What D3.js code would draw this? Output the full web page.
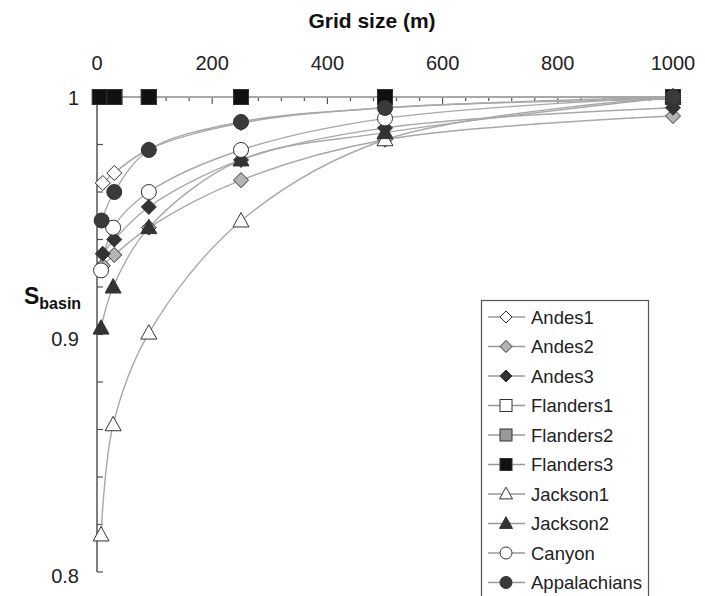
<!DOCTYPE html>
<html><head><meta charset="utf-8">
<script src="https://cdn.jsdelivr.net/npm/d3@7"></script>
<style>body{margin:0;background:#fff}svg{display:block;font-family:"Liberation Sans",Arial,sans-serif}</style>
</head><body><svg id="c" width="705" height="596"></svg>
<script>
const seriesNames = ["Andes1","Andes2","Andes3","Flanders1","Flanders2","Flanders3","Jackson1","Jackson2","Canyon","Appalachians"];
const gridAndes = [10,30,90,250,500,1000];
const gridFlanders = [5,30,90,250,500,1000];
const gridJackson = [7,28,90,250,500,1000];
const gridCanyon = [7,28,90,250,500,1000];
const gridAppal = [8,30,90,250,500,1000];
const andes1 = [0.9638,0.968,0.978,0.989,0.9955,0.999];
const andes2 = [0.929,0.9335,0.945,0.965,0.982,0.992];
const andes3 = [0.934,0.940,0.9537,0.9735,0.987,0.9955];
const flanders1 = [1,1,1,1,1,1];
const flanders2 = [1,1,1,1,1,1];
const flanders3 = [1,1,1,1,1,1];
const jackson1 = [0.8156,0.862,0.9006,0.9478,0.982,1.0];
const jackson2 = [0.9027,0.920,0.945,0.9735,0.985,1.0];
const canyon = [0.927,0.945,0.960,0.9777,0.991,1.0];
const appalachians = [0.948,0.960,0.9777,0.9895,0.9954,1.0];
const xTicks = [0,200,400,600,800,1000];
const yTicks = [0.8,0.9,1];

const table = [
  {name:"Andes1", x:gridAndes, y:andes1, shape:"diamond", fill:"#ffffff"},
  {name:"Andes2", x:gridAndes, y:andes2, shape:"diamond", fill:"#b4b4b4"},
  {name:"Andes3", x:gridAndes, y:andes3, shape:"diamond", fill:"#333333"},
  {name:"Flanders1", x:gridFlanders, y:flanders1, shape:"square", fill:"#ffffff"},
  {name:"Flanders2", x:gridFlanders, y:flanders2, shape:"square", fill:"#999999"},
  {name:"Flanders3", x:gridFlanders, y:flanders3, shape:"square", fill:"#111111"},
  {name:"Jackson1", x:gridJackson, y:jackson1, shape:"triangle", fill:"#ffffff"},
  {name:"Jackson2", x:gridJackson, y:jackson2, shape:"triangle", fill:"#333333"},
  {name:"Canyon", x:gridCanyon, y:canyon, shape:"circle", fill:"#ffffff"},
  {name:"Appalachians", x:gridAppal, y:appalachians, shape:"circle", fill:"#3a3a3a"}
];

const svg = d3.select("#c");
const x = d3.scaleLinear().domain([0,1000]).range([97,673]);
const y = d3.scaleLinear().domain([0.8,1]).range([572,97]);

// title
svg.append("text").attr("x",372).attr("y",28).attr("text-anchor","middle")
  .attr("font-size",21).attr("font-weight","bold").attr("fill","#111").text("Grid size (m)");

// x axis (top)
const gx = svg.append("g").attr("transform","translate(0,97)");
gx.append("line").attr("x1",x(0)).attr("x2",x(1000)).attr("y1",0).attr("y2",0).attr("stroke","#555").attr("stroke-width",1.5);
gx.selectAll(".mt").data(d3.range(40,1001,40)).join("line")
  .attr("x1",d=>x(d)).attr("x2",d=>x(d)).attr("y1",0).attr("y2",d=>d%200===0?7:4)
  .attr("stroke","#555").attr("stroke-width",1.2);
gx.selectAll(".tl").data(xTicks).join("text")
  .attr("x",d=>x(d)).attr("y",-27).attr("text-anchor","middle").attr("font-size",20).attr("fill","#222")
  .text(d=>d);

// y axis
const gy = svg.append("g");
gy.append("line").attr("x1",97).attr("x2",97).attr("y1",y(1)).attr("y2",y(0.8)).attr("stroke","#555").attr("stroke-width",1.5);
gy.selectAll(".yt").data(d3.range(0,10).map(i=>0.8+i*0.02)).join("line")
  .attr("x1",97).attr("x2",103).attr("y1",d=>y(d)).attr("y2",d=>y(d)).attr("stroke","#555").attr("stroke-width",1.2);
gy.selectAll(".yl").data(yTicks).join("text")
  .attr("x",79).attr("y",d=>y(d)+(d===1?8:11)).attr("text-anchor","end").attr("font-size",20).attr("fill","#222")
  .text(d=>d===1?"1":d3.format(".1f")(d));

// y label
const yl = svg.append("text").attr("x",24).attr("y",304).attr("font-weight","bold").attr("fill","#111");
yl.append("tspan").attr("font-size",23).text("S");
yl.append("tspan").attr("font-size",16).attr("dy",5).text("basin");

// symbol helper
function sym(g, shape, cx, cy, s, fill){
  if(shape==="diamond"){
    g.append("path").attr("d",`M${cx},${cy-s}L${cx+s},${cy}L${cx},${cy+s}L${cx-s},${cy}Z`)
      .attr("fill",fill).attr("stroke","#333").attr("stroke-width",1);
  } else if(shape==="square"){
    g.append("rect").attr("x",cx-s).attr("y",cy-s).attr("width",2*s).attr("height",2*s)
      .attr("fill",fill).attr("stroke","#333").attr("stroke-width",1);
  } else if(shape==="triangle"){
    g.append("path").attr("d",`M${cx},${cy-s*1.05}L${cx+s},${cy+s*0.75}L${cx-s},${cy+s*0.75}Z`)
      .attr("fill",fill).attr("stroke","#333").attr("stroke-width",1);
  } else {
    g.append("circle").attr("cx",cx).attr("cy",cy).attr("r",s)
      .attr("fill",fill).attr("stroke","#333").attr("stroke-width",1);
  }
}
const sizes = {diamond:7.5, square:7.5, triangle:8, circle:7.5};

// lines
const line = d3.line().x(d=>x(d[0])).y(d=>y(d[1])).curve(d3.curveCatmullRom.alpha(0.5));
const gl = svg.append("g");
table.forEach(s=>{
  const pts = s.x.map((v,i)=>[v,s.y[i]]);
  gl.append("path").attr("d",line(pts)).attr("fill","none").attr("stroke","#a8a8a8").attr("stroke-width",1.4);
});
// markers
const gm = svg.append("g");
table.forEach(s=>{
  s.x.forEach((v,i)=>sym(gm, s.shape, x(v), y(s.y[i]), sizes[s.shape], s.fill));
});

// legend
const lg = svg.append("g");
lg.append("rect").attr("x",481.5).attr("y",300.5).attr("width",167).attr("height",300)
  .attr("fill","#fff").attr("stroke","#555").attr("stroke-width",1.2);
table.forEach((s,i)=>{
  const cy = 317 + i*29.5;
  lg.append("line").attr("x1",488).attr("x2",525).attr("y1",cy).attr("y2",cy).attr("stroke","#999").attr("stroke-width",1.3);
  sym(lg, s.shape, 506, cy, s.shape==="triangle"?6.5:6, s.fill);
  lg.append("text").attr("x",531).attr("y",cy+6.5).attr("font-size",18.5).attr("fill","#222").text(s.name);
});
</script>
</body></html>
